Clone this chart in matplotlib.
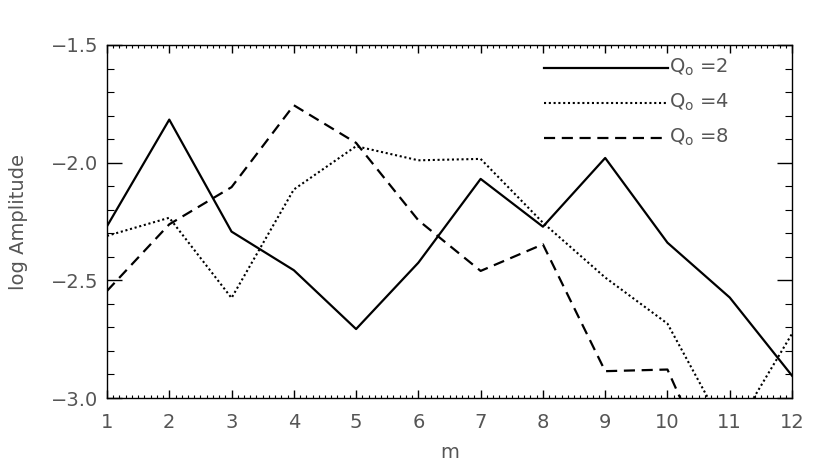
import matplotlib
matplotlib.use("Agg")
import matplotlib.pyplot as plt
from matplotlib.ticker import MultipleLocator, FixedLocator

m = [1, 2, 3, 4, 5, 6, 7, 8, 9, 10, 11, 12]
q2 = [-2.27, -1.817, -2.293, -2.457, -2.707, -2.425, -2.069, -2.272, -1.98, -2.34, -2.573, -2.905]
q4 = [-2.311, -2.234, -2.575, -2.114, -1.93, -1.99, -1.984, -2.255, -2.488, -2.684, -3.17, -2.727]
q8 = [-2.545, -2.262, -2.104, -1.756, -1.916, -2.245, -2.46, -2.347, -2.886, -2.879, -3.47, -3.6]
labels = [r"Q$_{\rm o}$ =2", r"Q$_{\rm o}$ =4", r"Q$_{\rm o}$ =8"]
xticks = [1, 2, 3, 4, 5, 6, 7, 8, 9, 10, 11, 12]
yticks = [-3.0, -2.5, -2.0, -1.5]

TXT = "#555555"
fig = plt.figure(figsize=(8.22, 4.63), dpi=100)
ax = fig.add_axes([107/822, 1-398/463, 685/822, 353/463])

styles = [
    dict(linestyle="-", lw=1.6),
    dict(linestyle=(0, (1.0, 1.3)), lw=1.5),
    dict(linestyle=(0, (5, 3)), lw=1.6),
]
for ys, st in zip([q2, q4, q8], styles):
    ax.plot(m, ys, color="black", **st)

ax.set_xlim(1, 12)
ax.set_ylim(-3.0, -1.5)
ax.xaxis.set_major_locator(FixedLocator(xticks))
ax.xaxis.set_minor_locator(MultipleLocator(0.1))
ax.yaxis.set_major_locator(FixedLocator(yticks))
ax.yaxis.set_minor_locator(MultipleLocator(0.1))
ax.set_xticklabels([str(v) for v in xticks])
ax.set_yticklabels(["\u2212%.1f" % abs(v) for v in yticks])

ax.tick_params(axis="both", which="both", direction="in", top=True, right=True,
               color="black", labelcolor=TXT, labelsize=14)
ax.tick_params(axis="x", which="major", length=6, width=1, pad=11)
ax.tick_params(axis="x", which="minor", length=2.5, width=0.8)
ax.tick_params(axis="y", which="major", length=11, width=1, pad=6)
ax.tick_params(axis="y", which="minor", length=5, width=0.8)
for s in ax.spines.values():
    s.set_linewidth(1.0)
    s.set_color("black")

ax.set_xlabel("m", color=TXT, fontsize=14, labelpad=8)
ax.set_ylabel("log Amplitude", color=TXT, fontsize=14, labelpad=17)

# legend drawn manually
x0, x1 = (544-107)/685, (668-107)/685
for i, (lab, st) in enumerate(zip(labels, styles)):
    yy = 1 - (67.7 + 35*i - 45)/353
    ax.plot([x0, x1], [yy, yy], transform=ax.transAxes, color="black", clip_on=False, **st)
    ax.text(x1 + 0.002, yy, lab, transform=ax.transAxes, color=TXT, fontsize=14,
            va="center", ha="left")

fig.savefig("out.png", dpi=100)
